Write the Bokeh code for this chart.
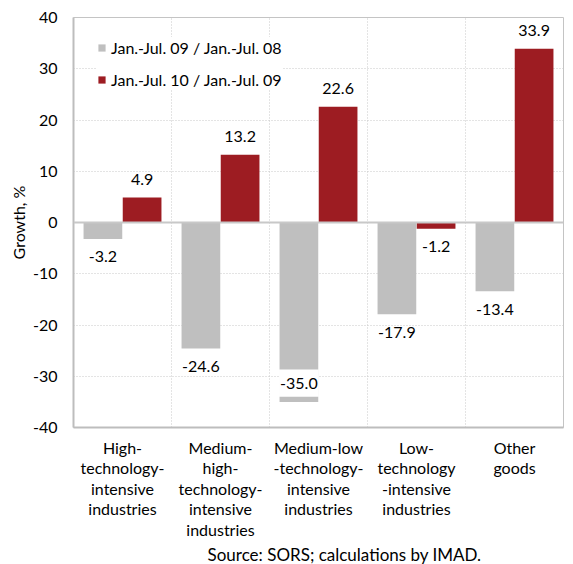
from bokeh.plotting import figure
from bokeh.models import FixedTicker, Span, Legend, LegendItem, Title, ColumnDataSource
from bokeh.embed import file_html
from bokeh.resources import INLINE

# Export growth by technology intensity, y/y, %
categories = [
    "High-\ntechnology-\nintensive\nindustries",
    "Medium-\nhigh-\ntechnology-\nintensive\nindustries",
    "Medium-low\n-technology-\nintensive\nindustries",
    "Low-\ntechnology\n-intensive\nindustries",
    "Other\ngoods",
]
series_names = ["Jan.-Jul. 09 / Jan.-Jul. 08", "Jan.-Jul. 10 / Jan.-Jul. 09"]
growth_09 = [-3.2, -24.6, -35.0, -17.9, -13.4]
growth_10 = [4.9, 13.2, 22.6, -1.2, 33.9]
y_ticks = [-40, -30, -20, -10, 0, 10, 20, 30, 40]

# axis break drawn across the long bar (value range hidden by a white band)
break_index = 2
break_span = (-34.0, -28.7)

GREY = "#BFBFBF"
RED = "#9D1C22"
FONT = "Lato"
FS = "16px"

n = len(categories)
centers = [i + 0.5 for i in range(n)]
bar_w = 0.395
shift = 0.2

p = figure(
    frame_width=490, frame_height=410,
    x_range=(0, n), y_range=(y_ticks[0], y_ticks[-1]),
    output_backend="svg", toolbar_location=None,
    min_border_left=73, min_border_right=10,
    min_border_top=17, min_border_bottom=0,
)
p.background_fill_color = "white"
p.border_fill_color = "white"
p.outline_line_color = "#C4C4C4"
p.outline_line_width = 1

# grids: dotted, horizontal at ticks, vertical between categories
p.ygrid.ticker = FixedTicker(ticks=y_ticks)
p.ygrid.grid_line_color = "#C8C8C8"
p.ygrid.grid_line_dash = "1 2"
p.xgrid.ticker = FixedTicker(ticks=[i for i in range(1, n)])
p.xgrid.grid_line_color = "#C8C8C8"
p.xgrid.grid_line_dash = "1 2"

# y axis
p.yaxis.ticker = FixedTicker(ticks=y_ticks)
p.yaxis.major_label_overrides = {t: str(t) for t in y_ticks}
p.yaxis.major_tick_line_color = None
p.yaxis.major_tick_in = 0
p.yaxis.major_tick_out = 0
p.yaxis.minor_tick_line_color = None
p.yaxis.minor_tick_out = 0
p.yaxis.axis_line_color = "#BDBDBD"
p.yaxis.axis_line_width = 2
p.yaxis.major_label_text_font = FONT
p.yaxis.major_label_text_font_size = FS
p.yaxis.major_label_text_color = "black"
p.yaxis.major_label_standoff = 16
p.yaxis.axis_label = "Growth, %"
p.yaxis.axis_label_text_font = FONT
p.yaxis.axis_label_text_font_size = FS
p.yaxis.axis_label_text_font_style = "normal"
p.yaxis.axis_label_text_color = "black"
p.yaxis.axis_label_standoff = 2

# x axis with multi-line category labels
p.xaxis.ticker = FixedTicker(ticks=centers)
p.xaxis.major_label_overrides = {c: lab for c, lab in zip(centers, categories)}
p.xaxis.major_tick_line_color = None
p.xaxis.major_tick_in = 0
p.xaxis.major_tick_out = 0
p.xaxis.minor_tick_line_color = None
p.xaxis.minor_tick_out = 0
p.xaxis.axis_line_color = "#BDBDBD"
p.xaxis.axis_line_width = 2
p.xaxis.major_label_text_font = FONT
p.xaxis.major_label_text_font_size = FS
p.xaxis.major_label_text_color = "black"
p.xaxis.major_label_text_line_height = 1.08
p.xaxis.major_label_standoff = 10

# bars
x09 = [c - shift for c in centers]
x10 = [c + shift for c in centers]
r09 = p.vbar(x=x09, top=growth_09, bottom=0, width=bar_w, fill_color=GREY, line_color=None)
r10 = p.vbar(x=x10, top=growth_10, bottom=0, width=bar_w, fill_color=RED, line_color=None)

# break band on the long bar
p.quad(left=[x09[break_index] - bar_w / 2 - 0.005], right=[x09[break_index] + bar_w / 2 + 0.005],
       bottom=[break_span[0]], top=[break_span[1]], fill_color="white", line_color=None)

# zero line
p.add_layout(Span(location=0, dimension="width", line_color="#C8C8C8", line_width=2))

# value labels
lx, ly, lt, lo = [], [], [], []
for xs, vals in ((x09, growth_09), (x10, growth_10)):
    for i, (x, v) in enumerate(zip(xs, vals)):
        lx.append(x)
        lt.append(f"{v:.1f}")
        if xs is x09 and i == break_index:
            ly.append(sum(break_span) / 2)
            lo.append(0)
        else:
            ly.append(v)
            lo.append(-18 if v >= 0 else 18)
src = ColumnDataSource(dict(x=lx, y=ly, t=lt, o=lo))
p.text(x="x", y="y", text="t", y_offset="o", source=src,
       text_align="center", text_baseline="middle",
       text_font={"value": FONT}, text_font_size={"value": FS}, text_color="black")

legend = Legend(
    items=[LegendItem(label=series_names[0], renderers=[r09]),
           LegendItem(label=series_names[1], renderers=[r10])],
    location=(24, 338),
    background_fill_color="white", background_fill_alpha=1,
    border_line_color=None,
    glyph_width=9, glyph_height=9, label_height=20,
    label_standoff=5, spacing=12, padding=8, margin=0,
    label_text_font=FONT, label_text_font_size=FS, label_text_color="black",
)
p.add_layout(legend)

p.add_layout(Title(text="Source: SORS; calculations by IMAD.", align="left", offset=134,
                   text_font=FONT, text_font_size="17px", text_font_style="normal",
                   text_color="black", standoff=0), "below")

open("out.html", "w").write(file_html(p, INLINE))
